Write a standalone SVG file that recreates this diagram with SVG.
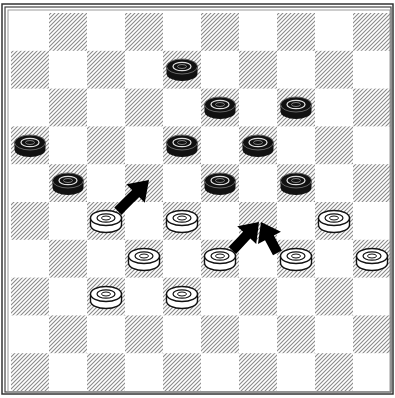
<svg xmlns="http://www.w3.org/2000/svg" xmlns:xlink="http://www.w3.org/1999/xlink" width="395" height="398" viewBox="0 0 395 398">
<style>
.d{fill:url(#hatch)}
.arrow{fill:#000}
</style>
<defs>
<pattern id="hatch" patternUnits="userSpaceOnUse" width="4" height="4">
<path d="M-1,1 l2,-2 M0,4 l4,-4 M3,5 l2,-2" stroke="#8a8a8a" stroke-width="1.1"/>
</pattern>
<g id="bp">
<path d="M-15.5,-3.5 V3.5 A15.5,7.5 0 0 0 15.5,3.5 V-3.5 Z" fill="#111"/>
<ellipse cy="-3.5" rx="15.5" ry="7.5" fill="#111" stroke="#666" stroke-width="1"/>
<ellipse cy="-3.5" rx="9" ry="4.2" fill="none" stroke="#ddd" stroke-width="1.3"/>
<ellipse cy="-3.5" rx="4.5" ry="2" fill="#111" stroke="#999" stroke-width="0.8"/>
</g>
<g id="wp">
<path d="M-15.5,-3.5 V3.5 A15.5,7.5 0 0 0 15.5,3.5 V-3.5" fill="#fff" stroke="#111" stroke-width="1.4"/>
<ellipse cy="-3.5" rx="15.5" ry="7.5" fill="#fff" stroke="#111" stroke-width="1.4"/>
<ellipse cy="-3.5" rx="9" ry="4.2" fill="none" stroke="#111" stroke-width="1.2"/>
<ellipse cy="-3.5" rx="4.5" ry="2" fill="none" stroke="#111" stroke-width="1"/>
</g>
</defs>
<rect width="395" height="398" fill="#fff"/>
<g id="frame" fill="none">
<rect x="2" y="4" width="391" height="390" stroke="#333" stroke-width="1.5"/>
<rect x="5" y="7" width="386" height="385" stroke="#444" stroke-width="1.2"/>
<rect x="8" y="10" width="382" height="382" stroke="#999" stroke-width="1"/>
</g>
<g id="board">
<rect class="d" x="49" y="13" width="38" height="37.8"/><rect class="d" x="125" y="13" width="38" height="37.8"/><rect class="d" x="201" y="13" width="38" height="37.8"/><rect class="d" x="277" y="13" width="38" height="37.8"/><rect class="d" x="353" y="13" width="38" height="37.8"/>
<rect class="d" x="11" y="50.8" width="38" height="37.8"/><rect class="d" x="87" y="50.8" width="38" height="37.8"/><rect class="d" x="163" y="50.8" width="38" height="37.8"/><rect class="d" x="239" y="50.8" width="38" height="37.8"/><rect class="d" x="315" y="50.8" width="38" height="37.8"/>
<rect class="d" x="49" y="88.6" width="38" height="37.8"/><rect class="d" x="125" y="88.6" width="38" height="37.8"/><rect class="d" x="201" y="88.6" width="38" height="37.8"/><rect class="d" x="277" y="88.6" width="38" height="37.8"/><rect class="d" x="353" y="88.6" width="38" height="37.8"/>
<rect class="d" x="11" y="126.4" width="38" height="37.8"/><rect class="d" x="87" y="126.4" width="38" height="37.8"/><rect class="d" x="163" y="126.4" width="38" height="37.8"/><rect class="d" x="239" y="126.4" width="38" height="37.8"/><rect class="d" x="315" y="126.4" width="38" height="37.8"/>
<rect class="d" x="49" y="164.2" width="38" height="37.8"/><rect class="d" x="125" y="164.2" width="38" height="37.8"/><rect class="d" x="201" y="164.2" width="38" height="37.8"/><rect class="d" x="277" y="164.2" width="38" height="37.8"/><rect class="d" x="353" y="164.2" width="38" height="37.8"/>
<rect class="d" x="11" y="202" width="38" height="37.8"/><rect class="d" x="87" y="202" width="38" height="37.8"/><rect class="d" x="163" y="202" width="38" height="37.8"/><rect class="d" x="239" y="202" width="38" height="37.8"/><rect class="d" x="315" y="202" width="38" height="37.8"/>
<rect class="d" x="49" y="239.8" width="38" height="37.8"/><rect class="d" x="125" y="239.8" width="38" height="37.8"/><rect class="d" x="201" y="239.8" width="38" height="37.8"/><rect class="d" x="277" y="239.8" width="38" height="37.8"/><rect class="d" x="353" y="239.8" width="38" height="37.8"/>
<rect class="d" x="11" y="277.6" width="38" height="37.8"/><rect class="d" x="87" y="277.6" width="38" height="37.8"/><rect class="d" x="163" y="277.6" width="38" height="37.8"/><rect class="d" x="239" y="277.6" width="38" height="37.8"/><rect class="d" x="315" y="277.6" width="38" height="37.8"/>
<rect class="d" x="49" y="315.4" width="38" height="37.8"/><rect class="d" x="125" y="315.4" width="38" height="37.8"/><rect class="d" x="201" y="315.4" width="38" height="37.8"/><rect class="d" x="277" y="315.4" width="38" height="37.8"/><rect class="d" x="353" y="315.4" width="38" height="37.8"/>
<rect class="d" x="11" y="353.2" width="38" height="37.8"/><rect class="d" x="87" y="353.2" width="38" height="37.8"/><rect class="d" x="163" y="353.2" width="38" height="37.8"/><rect class="d" x="239" y="353.2" width="38" height="37.8"/><rect class="d" x="315" y="353.2" width="38" height="37.8"/>
</g>
<g id="black-pieces">
<g id="b1"><use href="#bp" x="182" y="70"/></g>
<g id="b2"><use href="#bp" x="220" y="108"/></g>
<g id="b3"><use href="#bp" x="296" y="108"/></g>
<g id="b4"><use href="#bp" x="30" y="146"/></g>
<g id="b5"><use href="#bp" x="182" y="146"/></g>
<g id="b6"><use href="#bp" x="258" y="146"/></g>
<g id="b7"><use href="#bp" x="68" y="184"/></g>
<g id="b8"><use href="#bp" x="220" y="184"/></g>
<g id="b9"><use href="#bp" x="296" y="184"/></g>
</g>
<g id="white-pieces">
<g id="w1"><use href="#wp" x="106" y="221.5"/></g>
<g id="w2"><use href="#wp" x="182" y="221.5"/></g>
<g id="w3"><use href="#wp" x="334" y="221.5"/></g>
<g id="w4"><use href="#wp" x="144" y="259.5"/></g>
<g id="w5"><use href="#wp" x="220" y="259.5"/></g>
<g id="w6"><use href="#wp" x="296" y="259.5"/></g>
<g id="w7"><use href="#wp" x="372" y="259.5"/></g>
<g id="w8"><use href="#wp" x="106" y="297.5"/></g>
<g id="w9"><use href="#wp" x="182" y="297.5"/></g>
</g>
<g id="connectors">
<path class="arrow" transform="translate(149,180) rotate(-45)" d="M-44,-5 L-19,-5 L-19,-13 L0,0 L-19,13 L-19,5 L-44,5 Z"/>
<path class="arrow" transform="translate(259,222) rotate(-47)" d="M-39,-5 L-18,-5 L-18,-13 L0,0 L-18,13 L-18,5 L-39,5 Z"/>
<path class="arrow" transform="translate(261,222) rotate(-118)" d="M-35,-5 L-18,-5 L-18,-13 L0,0 L-18,13 L-18,5 L-35,5 Z"/>
</g>
</svg>
